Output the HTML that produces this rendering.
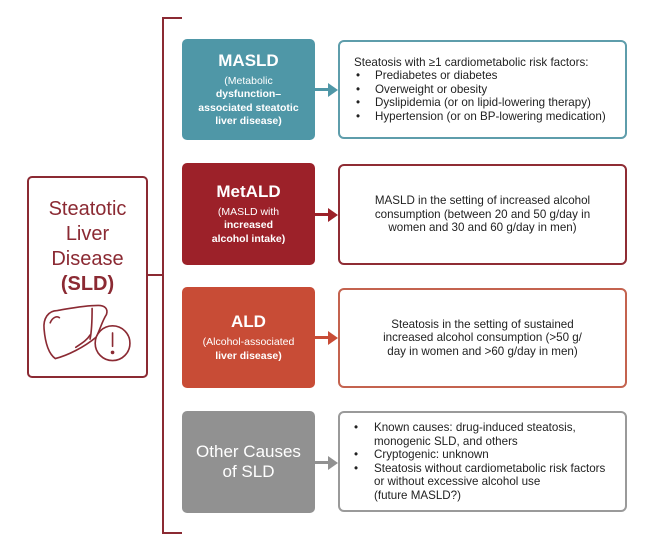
<!DOCTYPE html>
<html><head><meta charset="utf-8"><style>
*{margin:0;padding:0;box-sizing:border-box}
body{width:656px;height:543px;background:#fff;position:relative;font-family:"Liberation Sans",Arial,sans-serif;overflow:hidden}
.a{position:absolute}
.c{position:absolute;left:182px;width:133px;border-radius:5px;color:#fff;text-align:center;display:flex;flex-direction:column;justify-content:center;align-items:center}
.c .t{font-size:17px;font-weight:bold;margin-bottom:4px}
.c .s{font-size:10.5px;line-height:13.5px;font-weight:bold}
.c .s span{font-weight:normal}
.r{position:absolute;left:338px;width:289px;border:2px solid;border-radius:6px;font-size:11.6px;line-height:13.5px;color:#222;display:flex;flex-direction:column;justify-content:center}
.r.cen{text-align:center;align-items:center}
ul{list-style:none}
li{position:relative;padding-left:34px}
li:before{content:"•";position:absolute;left:14px}
.r1 li{padding-left:21px}
.r1 li:before{left:2px}
.arr{position:absolute;left:315px;height:3px;width:14px}
.ah{position:absolute;left:328px;width:0;height:0;border-top:7px solid transparent;border-bottom:7px solid transparent;border-left:10px solid}
</style></head><body>
<div class="a" style="left:162px;top:17px;width:2px;height:517px;background:#8b2a33"></div>
<div class="a" style="left:162px;top:17px;width:20px;height:2px;background:#8b2a33"></div>
<div class="a" style="left:162px;top:532px;width:20px;height:2px;background:#8b2a33"></div>
<div class="a" style="left:147px;top:274px;width:16px;height:2px;background:#8b2a33"></div>
<div class="a" style="left:27px;top:176px;width:121px;height:202px;border:2px solid #8b2a33;border-radius:5px;text-align:center;color:#8b2a33;font-size:20px;line-height:25px;padding-top:19px">Steatotic<br>Liver<br>Disease<br><b>(SLD)</b>
<svg width="92" height="62" viewBox="0 0 90 60" style="position:absolute;left:12px;top:124px" fill="none" stroke="#8b2a33" stroke-width="1.6" stroke-linecap="round">
<path d="M16 8 C 7 8 2 16 3 26 C 4 38 7 50 14 55 C 26 52 42 44 54 34 C 58 26 60 18 64 12 C 66 6 62 3 56 3 C 42 3 28 6 16 8 Z"/>
<path d="M9 20 C 11 15 15 13 18 15"/>
<path d="M34 44 C 40 40 45 37 48 32"/>
<path d="M50 6 C 50 16 50 26 48 36"/>
<circle cx="70" cy="40" r="17" fill="#fff"/>
<path d="M70 30 L70 43"/><circle cx="70" cy="49" r="1" fill="#8b2a33"/>
</svg></div>
<div class="c" style="top:39px;height:101px;background:#4f97a7"><div class="t">MASLD</div><div class="s"><span>(Metabolic</span><br>dysfunction–<br>associated steatotic<br>liver disease)</div></div>
<div class="arr" style="top:88px;background:#4f97a7"></div><div class="ah" style="top:83px;border-left-color:#4f97a7"></div>
<div class="r r1" style="top:40px;height:99px;border-color:#5e9dab;padding-left:14px">
<div>Steatosis with ≥1 cardiometabolic risk factors:</div>
<ul><li>Prediabetes or diabetes</li><li>Overweight or obesity</li><li>Dyslipidemia (or on lipid-lowering therapy)</li><li>Hypertension (or on BP-lowering medication)</li></ul></div>
<div class="c" style="top:163px;height:102px;background:#9c2129"><div class="t">MetALD</div><div class="s"><span>(MASLD with</span><br>increased<br>alcohol intake)</div></div>
<div class="arr" style="top:213px;background:#9c2129"></div><div class="ah" style="top:208px;border-left-color:#9c2129"></div>
<div class="r cen" style="top:164px;height:101px;border-color:#8f2c34">MASLD in the setting of increased alcohol<br>consumption (between 20 and 50 g/day in<br>women and 30 and 60 g/day in men)</div>
<div class="c" style="top:287px;height:101px;background:#c84c36"><div class="t">ALD</div><div class="s"><span>(Alcohol-associated</span><br>liver disease)</div></div>
<div class="arr" style="top:336px;background:#c84c36"></div><div class="ah" style="top:331px;border-left-color:#c84c36"></div>
<div class="r cen" style="top:288px;height:100px;border-color:#c4634f">Steatosis in the setting of sustained<br>increased alcohol consumption (&gt;50 g/<br>day in women and &gt;60 g/day in men)</div>
<div class="c" style="top:411px;height:102px;background:#919191"><div class="s" style="font-size:17px;line-height:20px;font-weight:normal">Other Causes<br>of SLD</div></div>
<div class="arr" style="top:461px;background:#919191"></div><div class="ah" style="top:456px;border-left-color:#919191"></div>
<div class="r" style="top:411px;height:101px;border-color:#9a9a9a">
<ul><li>Known causes: drug-induced steatosis,<br>monogenic SLD, and others</li><li>Cryptogenic: unknown</li><li>Steatosis without cardiometabolic risk factors<br>or without excessive alcohol use<br>(future MASLD?)</li></ul></div>
</body></html>
